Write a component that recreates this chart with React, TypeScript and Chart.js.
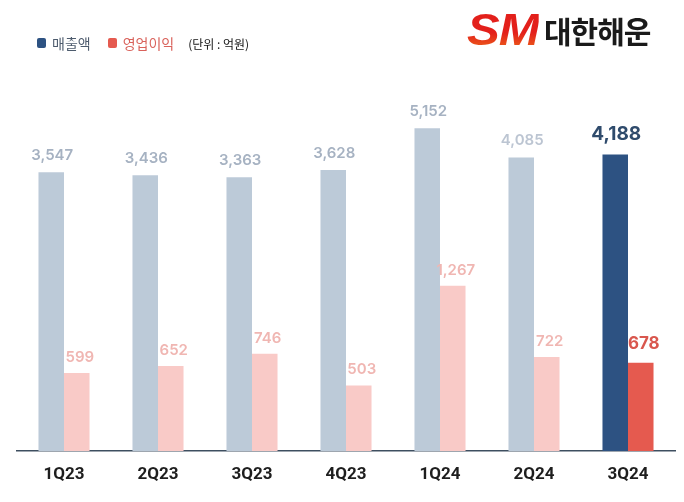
import React, { useEffect, useRef } from "react";
import { Chart, registerables } from "chart.js";

Chart.register(...registerables);

const categories = ["1Q23", "2Q23", "3Q23", "4Q23", "1Q24", "2Q24", "3Q24"];
const revenue = [3547, 3436, 3363, 3628, 5152, 4085, 4188];
const operatingProfit = [599, 652, 746, 503, 1267, 722, 678];
const seriesNames = ["매출액", "영업이익"];
const unitLabel = "(단위 : 억원)";

const REV_AXIS_MIN = -6630;
const REV_AXIS_MAX = 7640;
const OP_AXIS_MAX = 3000;

const REV_LIGHT = "#bccad8";
const REV_DARK = "#2d5282";
const OP_LIGHT = "#f9cac7";
const OP_DARK = "#e55a4f";

const fmt = (v: number) => v.toLocaleString("en-US");

const labelPlugin = {
  id: "valueLabels",
  afterDatasetsDraw(chart: any) {
    const ctx = chart.ctx;
    const last = categories.length - 1;
    chart.data.datasets.forEach((ds: any, di: number) => {
      const meta = chart.getDatasetMeta(di);
      meta.data.forEach((el: any, i: number) => {
        const v = ds.data[i] as number;
        const isLast = i === last;
        ctx.save();
        ctx.textAlign = "center";
        ctx.textBaseline = "alphabetic";
        if (di === 0) {
          ctx.fillStyle = isLast ? "#2f4b6c" : i === 5 ? "#bcc5d2" : "#a6b2c2";
          ctx.font = isLast ? "700 19px Inter" : "600 15px Inter";
          ctx.fillText(fmt(v), el.x + 1, el.y - (isLast ? 15 : 12));
        } else {
          ctx.fillStyle = isLast ? "#d9574e" : "#f0b6b2";
          ctx.font = isLast ? "700 17px Inter" : "600 15px Inter";
          ctx.fillText(fmt(v), el.x + 3, el.y - (isLast ? 14 : 11));
        }
        ctx.restore();
      });
    });
  },
};

export default function App() {
  const ref = useRef<HTMLCanvasElement | null>(null);

  useEffect(() => {
    if (!ref.current) return;
    const last = categories.length - 1;
    const chart = new Chart(ref.current, {
      type: "bar",
      data: {
        labels: categories,
        datasets: [
          {
            label: seriesNames[0],
            data: revenue,
            yAxisID: "y",
            base: REV_AXIS_MIN,
            backgroundColor: revenue.map((_, i) => (i === last ? REV_DARK : REV_LIGHT)),
            borderWidth: 0,
          },
          {
            label: seriesNames[1],
            data: operatingProfit,
            yAxisID: "y1",
            backgroundColor: operatingProfit.map((_, i) => (i === last ? OP_DARK : OP_LIGHT)),
            borderWidth: 0,
          },
        ],
      },
      options: {
        responsive: false,
        animation: false,
        layout: { padding: { left: 17, right: 9, top: 60, bottom: 0 } },
        datasets: { bar: { categoryPercentage: 0.543, barPercentage: 1 } },
        plugins: { legend: { display: false }, tooltip: { enabled: false } },
        scales: {
          x: {
            grid: { display: false, drawTicks: false, tickLength: 0 },
            border: { display: true, color: "#3e4f60", width: 1.5 },
            ticks: {
              padding: 14,
              color: "#1e1e1e",
              font: { family: "Roboto", size: 17, weight: "bold" },
            },
            afterFit: (scale: any) => {
              scale.height = 51;
            },
          },
          y: { display: false, min: REV_AXIS_MIN, max: REV_AXIS_MAX },
          y1: { display: false, min: 0, max: OP_AXIS_MAX },
        },
      } as any,
      plugins: [labelPlugin],
    });
    return () => chart.destroy();
  }, []);

  return (
    <div style={{ position: "fixed", left: 0, top: 0, width: 684, height: 502, background: "#ffffff" }}>
      <canvas ref={ref} width={684} height={502} style={{ position: "absolute", left: 0, top: 0 }} />
      <div
        style={{
          position: "absolute",
          left: 37,
          top: 33,
          display: "flex",
          alignItems: "center",
          fontFamily: "'Noto Sans CJK KR', 'Noto Sans', sans-serif",
          whiteSpace: "nowrap",
        }}
      >
        <span style={{ width: 9, height: 10, background: REV_DARK, borderRadius: 2, display: "inline-block" }} />
        <span style={{ marginLeft: 6, fontSize: 14, color: "#4d5b6d" }}>{seriesNames[0]}</span>
        <span style={{ marginLeft: 17, width: 9, height: 10, background: OP_DARK, borderRadius: 2, display: "inline-block" }} />
        <span style={{ marginLeft: 6, fontSize: 14, color: "#d9625b" }}>{seriesNames[1]}</span>
        <span style={{ marginLeft: 14, fontSize: 12, color: "#111" }}>{unitLabel}</span>
      </div>
      <div
        style={{
          position: "absolute",
          left: 467,
          top: 4,
          display: "flex",
          alignItems: "center",
          whiteSpace: "nowrap",
        }}
      >
        <span
          style={{
            fontFamily: "'Liberation Sans', Arial, sans-serif",
            fontWeight: 900,
            fontStyle: "italic",
            fontSize: 44,
            letterSpacing: -1,
            display: "inline-block",
            transform: "scaleX(1.12)",
            transformOrigin: "left center",
            background: "linear-gradient(180deg, #e3201b 0%, #e3201b 55%, #f07a1a 100%)",
            WebkitBackgroundClip: "text",
            backgroundClip: "text",
            color: "transparent",
            lineHeight: "52px",
          }}
        >
          SM
        </span>
        <span
          style={{
            marginLeft: 13,
            fontFamily: "'Noto Sans CJK KR', sans-serif",
            fontWeight: 700,
            fontSize: 30,
            color: "#1a1a1a",
            letterSpacing: -1,
            lineHeight: "52px",
          }}
        >
          대한해운
        </span>
      </div>
    </div>
  );
}
